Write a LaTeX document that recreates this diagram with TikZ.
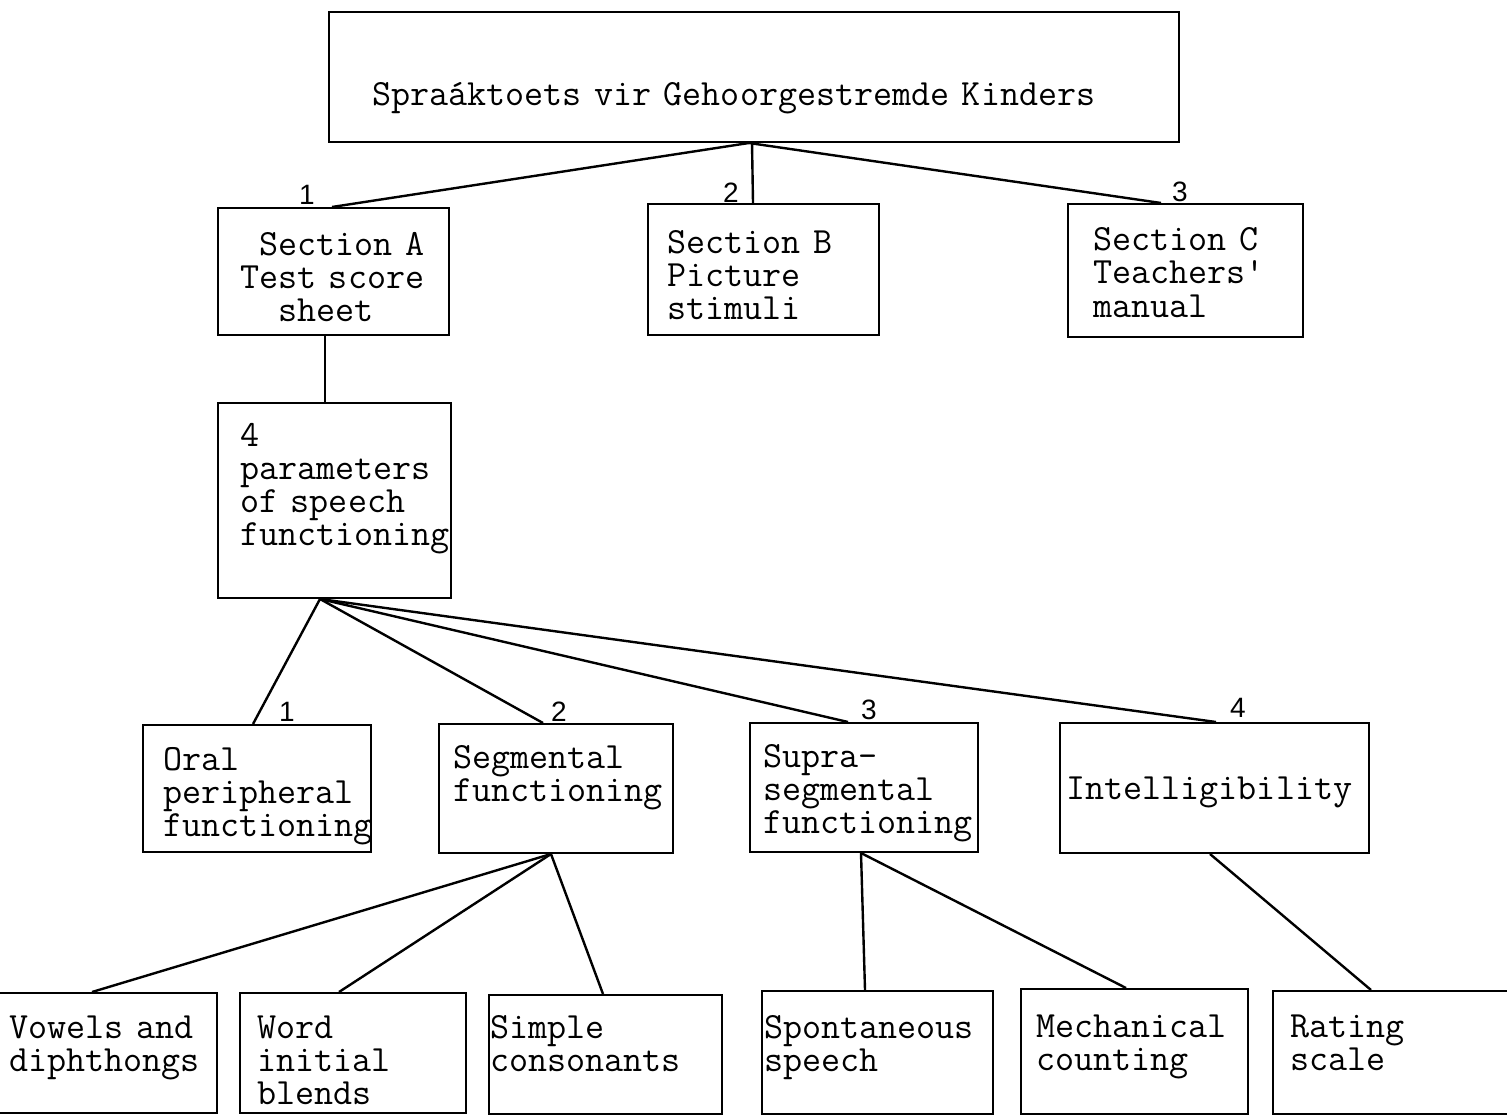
\documentclass[tikz,border=0pt]{standalone}
\usepackage{fontspec}
\newfontfamily\labfont{Liberation Sans}
\usetikzlibrary{fit,calc}
\begin{document}
\begin{tikzpicture}[x=0.5pt,y=-0.5pt,
  box/.style={draw, line width=1pt, inner sep=0pt},
  txt/.style={anchor=base west, inner sep=0pt, text width=420pt, align=left,
    font=\ttfamily\fontsize{18.5pt}{16.5pt}\selectfont},
  lab/.style={inner sep=0pt, font=\labfont\fontsize{14pt}{16pt}\selectfont},
  link/.style={line width=1.2pt}]
\useasboundingbox[fill=white] (0,0) rectangle (1507,1117);

% boxes
\node[box, fit={(329,12) (1179,142)}] (top) {};
\node[box, fit={(218,208) (449,335)}] (secA) {};
\node[box, fit={(648,204) (879,335)}] (secB) {};
\node[box, fit={(1068,204) (1303,337)}] (secC) {};
\node[box, fit={(218,403) (451,598)}] (param) {};
\node[box, fit={(143,725) (371,852)}] (oral) {};
\node[box, fit={(439,724) (673,853)}] (seg) {};
\node[box, fit={(750,723) (978,852)}] (supra) {};
\node[box, fit={(1060,723) (1369,853)}] (intel) {};
\node[box, fit={(-10,993) (217,1113)}] (vow) {};
\node[box, fit={(240,993) (466,1113)}] (word) {};
\node[box, fit={(489,995) (722,1114)}] (simp) {};
\node[box, fit={(762,991) (993,1114)}] (spont) {};
\node[box, fit={(1021,989) (1248,1114)}] (mech) {};
\node[box, fit={(1273,991) (1520,1114)}] (rate) {};

% texts
\node[txt] (ttop) at (372,106) {Spraáktoets vir Gehoorgestremde Kinders};
\node[txt] (tsecA) at (240,256) {\phantom{x}Section A\\Test score\\\phantom{xx}sheet};
\node[txt] (tsecB) at (667,254) {Section B\\Picture\\stimuli};
\node[txt] (tsecC) at (1093,251) {Section C\\Teachers\textquotesingle\\manual};
\node[txt] (tparam) at (240,446) {4\\parameters\\of speech\\functioning};
\node[txt] (toral) at (163,770) {Oral\\peripheral\\functioning};
\node[txt] (tseg) at (453,768) {Segmental\\functioning};
\node[txt] (tsupra) at (763,767) {Supra-\\segmental\\functioning};
\node[txt] (tintel) at (1066,799) {Intelligibility};
\node[txt] (tvow) at (9,1038) {Vowels and\\diphthongs};
\node[txt] (tword) at (257,1038) {Word\\initial\\blends};
\node[txt] (tsimp) at (490,1038) {Simple\\consonants};
\node[txt] (tspont) at (764,1038) {Spontaneous\\speech};
\node[txt] (tmech) at (1036,1037) {Mechanical\\counting};
\node[txt] (trate) at (1290,1037) {Rating\\scale};

% number labels
\node[lab] (n1) at (307,195) {1};
\node[lab] (n2) at (731,193) {2};
\node[lab] (n3) at (1180,192) {3};
\node[lab] (m1) at (287,712) {1};
\node[lab] (m2) at (559,712) {2};
\node[lab] (m3) at (869,710) {3};
\node[lab] (m4) at (1238,708) {4};

% connectors
\draw[link] (top.south -| 749,0) -- (secA.north -| 332,0);
\draw[link] (top.south -| 752,0) -- (secB.north -| 753,0);
\draw[link] (top.south -| 749,0) -- (secC.north -| 1161,0);
\draw[link] (secA.south -| 325,0) -- (param.north -| 325,0);
\draw[link] (param.south -| 320,0) -- (oral.north -| 253,0);
\draw[link] (param.south -| 320,0) -- (seg.north -| 543,0);
\draw[link] (param.south -| 320,0) -- (supra.north -| 848,0);
\draw[link] (param.south -| 320,0) -- (intel.north -| 1216,0);
\draw[link] (seg.south -| 551,0) -- (vow.north -| 92,0);
\draw[link] (seg.south -| 551,0) -- (word.north -| 339,0);
\draw[link] (seg.south -| 551,0) -- (simp.north -| 603,0);
\draw[link] (supra.south -| 861,0) -- (spont.north -| 865,0);
\draw[link] (supra.south -| 861,0) -- (mech.north -| 1126,0);
\draw[link] (intel.south -| 1210,0) -- (rate.north -| 1371,0);
\end{tikzpicture}
\end{document}
